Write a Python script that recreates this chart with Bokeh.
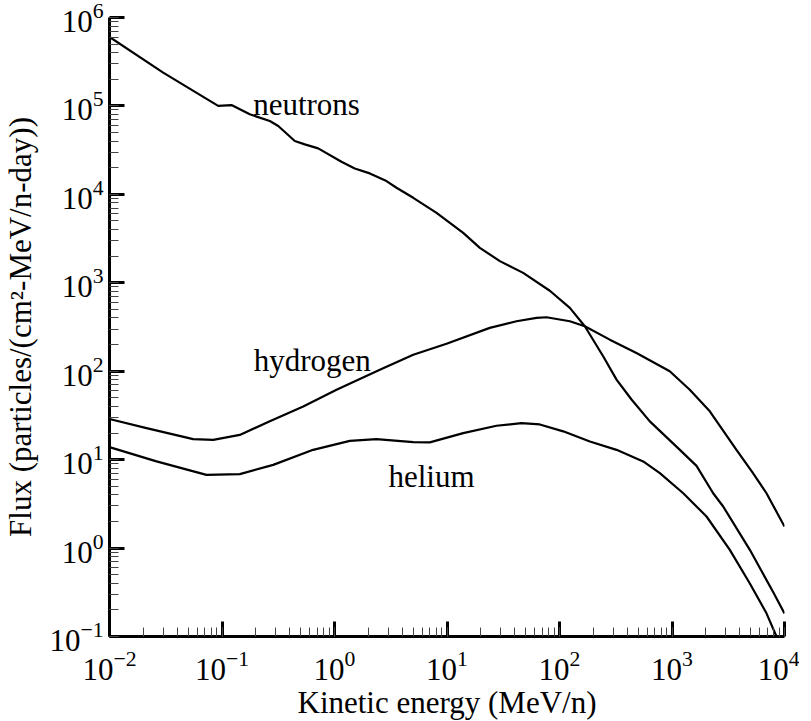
from bokeh.plotting import figure
from bokeh.models import Range1d
from bokeh.core.properties import value
from bokeh.embed import file_html
from bokeh.resources import INLINE

FONT = "Liberation Serif"

# Neutron flux (log10 E in MeV/n, log10 flux)
neutron_logE = [-2.0, -1.523, -1.034, -0.916, -0.753, -0.575, -0.50, -0.353, -0.264, -0.145,
                0.062, 0.18, 0.314, 0.462, 0.551, 0.70, 0.907, 1.144, 1.292, 1.47, 1.677,
                1.914, 2.092, 2.225, 2.388, 2.507, 2.64, 2.803, 3.07, 3.218, 3.366, 3.455,
                3.692, 3.9, 4.0]
neutron_logF = [5.78, 5.377, 5.0, 5.01, 4.905, 4.83, 4.773, 4.604, 4.565, 4.52,
                4.369, 4.293, 4.237, 4.15, 4.075, 3.961, 3.79, 3.565, 3.395, 3.245, 3.112,
                2.91, 2.716, 2.508, 2.169, 1.905, 1.68, 1.433, 1.111, 0.93, 0.62, 0.47,
                -0.02, -0.5, -0.74]

hydrogen_logE = [-2.0, -1.671, -1.256, -1.078, -0.842, -0.575, -0.278, 0.018, 0.403, 0.70,
                 0.996, 1.38, 1.618, 1.796, 1.884, 2.092, 2.225, 2.447, 2.684, 2.98, 3.158,
                 3.336, 3.573, 3.72, 3.84, 4.0]
hydrogen_logF = [1.459, 1.357, 1.232, 1.224, 1.28, 1.433, 1.60, 1.79, 2.017, 2.187,
                 2.31, 2.49, 2.565, 2.603, 2.61, 2.565, 2.508, 2.357, 2.206, 1.999, 1.79,
                 1.546, 1.111, 0.847, 0.62, 0.243]

helium_logE = [-2.0, -1.582, -1.138, -0.842, -0.545, -0.19, 0.136, 0.373, 0.70, 0.847,
               1.144, 1.44, 1.662, 1.825, 2.033, 2.27, 2.507, 2.744, 2.892, 3.1, 3.307,
               3.514, 3.692, 3.84, 3.929, 3.95]
helium_logF = [1.142, 0.98, 0.828, 0.836, 0.941, 1.111, 1.213, 1.232, 1.198, 1.195,
               1.30, 1.383, 1.413, 1.398, 1.32, 1.206, 1.111, 0.98, 0.847, 0.62, 0.357,
               -0.02, -0.40, -0.738, -1.0, -1.04]

label_texts = ["neutrons", "hydrogen", "helium"]
label_x = [0.564, 0.635, 7.28]
label_y = [1.04e5, 130.6, 6.5]

x_range = (1e-2, 1e4)
y_range = (1e-1, 1e6)

p = figure(x_axis_type="log", y_axis_type="log",
           x_range=Range1d(*x_range), y_range=Range1d(*y_range),
           frame_width=675, frame_height=619,
           min_border_left=105, min_border_right=15, min_border_top=17, min_border_bottom=60,
           output_backend="svg", toolbar_location=None)

p.outline_line_color = None
p.grid.visible = False
p.background_fill_color = "white"
p.border_fill_color = "white"

for ax in (p.xaxis[0], p.yaxis[0]):
    ax.axis_line_width = 3
    ax.axis_line_color = "black"
    ax.major_tick_in = 15
    ax.major_tick_out = 0
    ax.major_tick_line_width = 3
    ax.minor_tick_in = 9
    ax.minor_tick_out = 0
    ax.minor_tick_line_width = 1
    ax.minor_tick_line_color = "#444444"
    ax.major_label_text_font = FONT
    ax.major_label_text_font_size = "31px"
    ax.major_label_text_color = "black"
    ax.axis_label_text_font = FONT
    ax.axis_label_text_font_size = "31px"
    ax.axis_label_text_font_style = "normal"
    ax.axis_label_text_color = "black"

p.xaxis.axis_label = "Kinetic energy (MeV/n)"
p.yaxis.axis_label = "Flux (particles/(cm\u00b2-MeV/n-day))"
p.xaxis.major_label_standoff = 14
p.yaxis.major_label_standoff = 6
p.xaxis.axis_label_standoff = 2
p.yaxis.axis_label_standoff = 8

def pw(a):
    return [10.0 ** v for v in a]

for ex, fl in ((neutron_logE, neutron_logF), (hydrogen_logE, hydrogen_logF), (helium_logE, helium_logF)):
    p.line(pw(ex), pw(fl), line_color="black", line_width=2.2, line_join="round")

p.text(x=label_x, y=label_y, text=label_texts, text_font=value(FONT), text_font_size="31px",
       text_align="center", text_baseline="alphabetic", text_color="black")

open("out.html", "w").write(file_html(p, INLINE))
